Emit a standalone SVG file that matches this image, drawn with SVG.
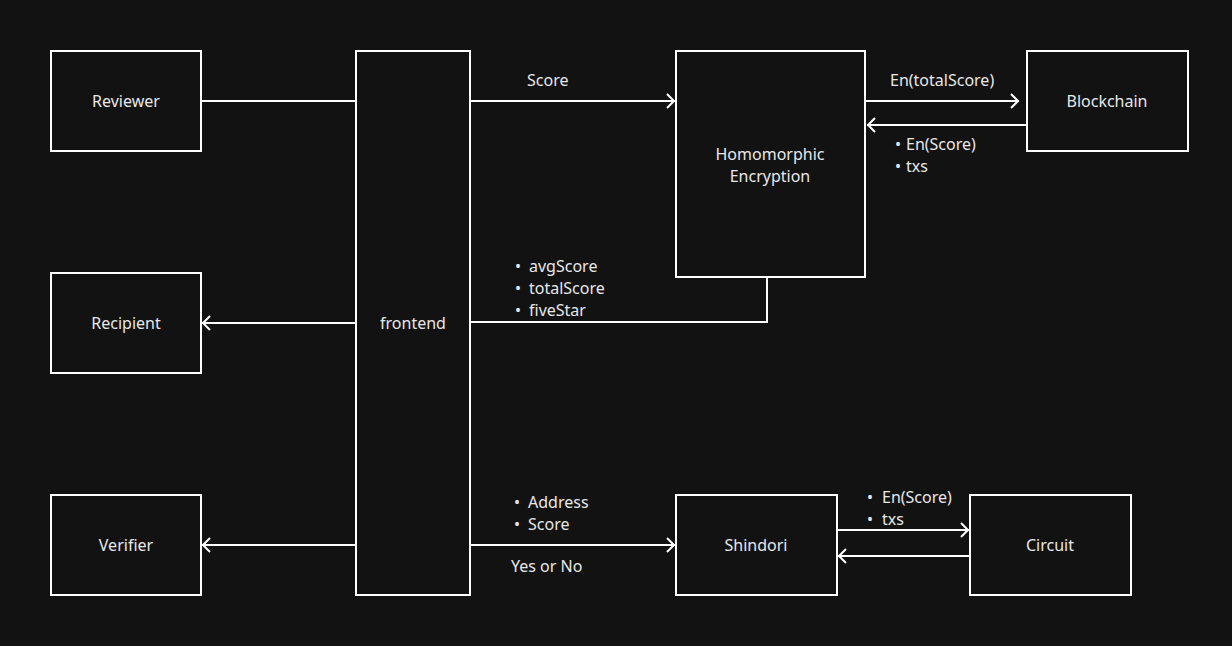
<svg xmlns="http://www.w3.org/2000/svg" width="1232" height="646" viewBox="0 0 1232 646">
<defs>
<style>
.box{fill:#121212;stroke:#ffffff;stroke-width:2}
.t{font-family:"Noto Sans","Liberation Sans",sans-serif;font-size:16px;fill:#e8e8e8;dominant-baseline:central}
.c{text-anchor:middle}
.ln{fill:none;stroke:#ffffff;stroke-width:2}
</style>
<marker id="arr" viewBox="0 0 10 16" refX="9" refY="8" markerWidth="10" markerHeight="16" markerUnits="userSpaceOnUse" orient="auto">
<path d="M1,1 L8,8 L1,15" fill="none" stroke="#ffffff" stroke-width="2"/>
</marker>
</defs>
<rect width="1232" height="646" fill="#121212"/>
<g id="connectors">
<path class="ln" d="M201,101 H356"/>
<path class="ln" d="M470,101 H675" marker-end="url(#arr)"/>
<path class="ln" d="M865,101 H1019" marker-end="url(#arr)"/>
<path class="ln" d="M1027,125 H867" marker-end="url(#arr)"/>
<path class="ln" d="M767,277 V322 H470"/>
<path class="ln" d="M356,323 H202" marker-end="url(#arr)"/>
<path class="ln" d="M356,545 H202" marker-end="url(#arr)"/>
<path class="ln" d="M470,545 H675" marker-end="url(#arr)"/>
<path class="ln" d="M837,530 H969" marker-end="url(#arr)"/>
<path class="ln" d="M970,556 H838" marker-end="url(#arr)"/>
<text class="t" x="527" y="80">Score</text>
<text class="t" x="890" y="80">En(totalScore)</text>
<text class="t" y="144"><tspan x="895">•</tspan><tspan x="906">En(Score)</tspan></text>
<text class="t" y="166"><tspan x="895">•</tspan><tspan x="906">txs</tspan></text>
<text class="t" y="266"><tspan x="515">•</tspan><tspan x="529">avgScore</tspan></text>
<text class="t" y="288"><tspan x="515">•</tspan><tspan x="529">totalScore</tspan></text>
<text class="t" y="310"><tspan x="515">•</tspan><tspan x="529">fiveStar</tspan></text>
<text class="t" y="502"><tspan x="514">•</tspan><tspan x="528">Address</tspan></text>
<text class="t" y="524"><tspan x="514">•</tspan><tspan x="528">Score</tspan></text>
<text class="t" x="511" y="566">Yes or No</text>
<text class="t" y="497"><tspan x="867">•</tspan><tspan x="882">En(Score)</tspan></text>
<text class="t" y="519"><tspan x="867">•</tspan><tspan x="882">txs</tspan></text>
</g>
<g id="reviewer"><rect class="box" x="51" y="51" width="150" height="100"/><text class="t c" x="126" y="101">Reviewer</text></g>
<g id="frontend"><rect class="box" x="356" y="51" width="114" height="544"/><text class="t c" x="413" y="323">frontend</text></g>
<g id="homomorphic"><rect class="box" x="676" y="51" width="189" height="226"/><text class="t c" x="770" y="154">Homomorphic</text><text class="t c" x="770" y="176">Encryption</text></g>
<g id="blockchain"><rect class="box" x="1027" y="51" width="161" height="100"/><text class="t c" x="1107" y="101">Blockchain</text></g>
<g id="recipient"><rect class="box" x="51" y="273" width="150" height="100"/><text class="t c" x="126" y="323">Recipient</text></g>
<g id="verifier"><rect class="box" x="51" y="495" width="150" height="100"/><text class="t c" x="126" y="545">Verifier</text></g>
<g id="shindori"><rect class="box" x="676" y="495" width="161" height="100"/><text class="t c" x="756" y="545">Shindori</text></g>
<g id="circuit"><rect class="box" x="970" y="495" width="161" height="100"/><text class="t c" x="1050" y="545">Circuit</text></g>
</svg>
